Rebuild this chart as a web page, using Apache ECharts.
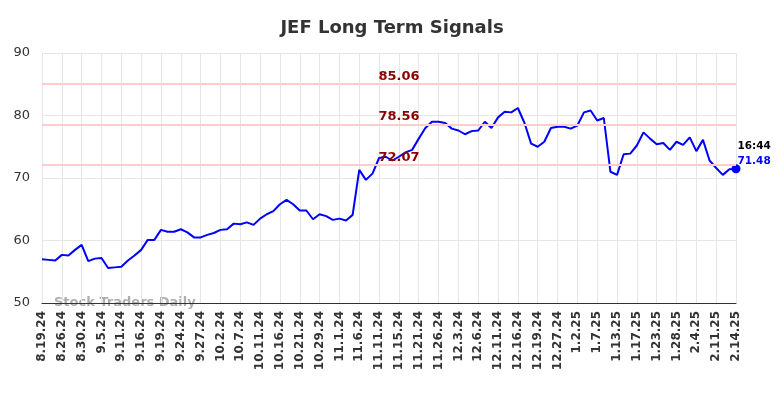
<!DOCTYPE html>
<html>
<head>
<meta charset="utf-8">
<script src="https://cdn.jsdelivr.net/npm/echarts@6/dist/echarts.min.js"></script>
<style>html,body{margin:0;padding:0;background:#fff}#c{width:784px;height:398px}</style>
</head>
<body>
<div id="c"></div>
<script>
var title = "JEF Long Term Signals";
var tickLabels = ["8.19.24","8.26.24","8.30.24","9.5.24","9.11.24","9.16.24","9.19.24","9.24.24","9.27.24","10.2.24","10.7.24","10.11.24","10.16.24","10.21.24","10.29.24","11.1.24","11.6.24","11.11.24","11.15.24","11.21.24","11.26.24","12.3.24","12.6.24","12.11.24","12.16.24","12.19.24","12.27.24","1.2.25","1.7.25","1.13.25","1.17.25","1.23.25","1.28.25","2.4.25","2.11.25","2.14.25"];
var prices = [
57.0,56.9,56.8,57.7,57.6,58.5,59.3,56.7,57.1,57.2,
55.6,55.7,55.8,56.8,57.6,58.5,60.1,60.1,61.7,61.4,
61.4,61.8,61.3,60.5,60.5,60.9,61.2,61.7,61.8,62.7,
62.6,62.9,62.5,63.5,64.2,64.7,65.8,66.5,65.8,64.8,
64.8,63.4,64.2,63.9,63.3,63.5,63.2,64.1,71.3,69.7,
70.7,73.2,73.4,72.8,73.4,74.1,74.5,76.3,78.0,79.0,
79.0,78.8,77.9,77.6,77.0,77.5,77.6,79.0,78.0,79.7,
80.6,80.5,81.2,78.8,75.5,75.0,75.8,78.0,78.2,78.2,
77.9,78.4,80.5,80.8,79.2,79.6,71.0,70.5,73.8,73.9,
75.2,77.3,76.3,75.4,75.6,74.5,75.8,75.3,76.5,74.3,
76.1,72.8,71.6,70.5,71.4,71.48];
var signalLevels = [85.06, 78.56, 72.07];
var lastTime = "16:44";
var yTicks = [50, 60, 70, 80, 90];

var categories = [];
for (var i = 0; i < tickLabels.length; i++) {
  categories.push(tickLabels[i]);
  if (i < tickLabels.length - 1) { categories.push(""); categories.push(""); }
}

var lastIdx = prices.length - 1;
var lineData = prices.map(function (v, i) {
  if (i !== lastIdx) return v;
  return {
    value: v,
    symbol: 'circle',
    symbolSize: 9,
    itemStyle: { color: '#0000ff' },
    label: {
      show: true,
      position: 'right',
      offset: [-8, -15],
      formatter: function (p) { return '{t|' + lastTime + '}\n{v|' + p.value.toFixed(2) + '}'; },
      rich: {
        t: { fontSize: 10.5, fontWeight: 'bold', color: '#000', fontFamily: 'DejaVu Sans', lineHeight: 15 },
        v: { fontSize: 10.5, fontWeight: 'bold', color: '#0000ff', fontFamily: 'DejaVu Sans', lineHeight: 15 }
      }
    }
  };
});

var chart = echarts.init(document.getElementById('c'), null, { renderer: 'canvas' });
chart.setOption({
  animation: false,
  title: {
    text: title, left: 'center', top: 14,
    textStyle: { fontSize: 18, fontWeight: 'bold', color: '#333', fontFamily: 'DejaVu Sans' }
  },
  grid: { left: 42, right: 48, top: 53, bottom: 95 },
  graphic: [{
    type: 'text', left: 54, top: 296,
    style: { text: 'Stock Traders Daily', fill: 'rgba(130,130,130,0.65)', font: 'bold 13px "DejaVu Sans"' }
  }],
  xAxis: {
    type: 'category', data: categories, boundaryGap: false,
    axisLine: { lineStyle: { color: '#333', width: 1 } },
    axisTick: { show: false, interval: 2 },
    axisLabel: { interval: 2, rotate: 90, fontSize: 12, fontWeight: 'bold', color: '#333', fontFamily: 'DejaVu Sans', margin: 8 },
    splitLine: { show: true, interval: 2, lineStyle: { color: '#e6e6e6', width: 1 } }
  },
  yAxis: {
    type: 'value', min: yTicks[0], max: yTicks[yTicks.length - 1], interval: 10,
    axisLine: { show: false }, axisTick: { show: false },
    axisLabel: { fontSize: 13, color: '#333', fontFamily: 'DejaVu Sans', margin: 12 },
    splitLine: { lineStyle: { color: '#e6e6e6', width: 1 } }
  },
  series: [{
    type: 'line', data: lineData, showSymbol: true, symbol: 'none',
    lineStyle: { color: '#0000ff', width: 2 },
    itemStyle: { color: '#0000ff' },
    markLine: {
      silent: true, symbol: ['none', 'none'],
      lineStyle: { color: '#ffcccc', width: 2, type: 'solid' },
      label: {
        show: true, position: 'middle', distance: 1,
        formatter: function (p) { return p.value.toFixed(2); },
        fontSize: 13, fontWeight: 'bold', color: '#8b0000', fontFamily: 'DejaVu Sans', offset: [10, 0]
      },
      data: signalLevels.map(function (v) { return { yAxis: v }; })
    },
    z: 3
  }]
});
</script>
</body>
</html>
